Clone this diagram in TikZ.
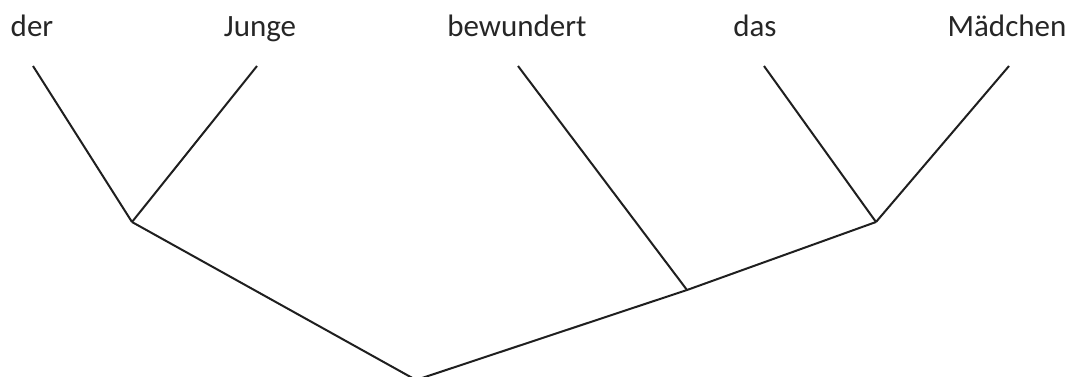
\documentclass[tikz,border=0pt]{standalone}
\usepackage{fontspec}
\setmainfont{Carlito}
\begin{document}
\begin{tikzpicture}[x=1pt,y=-1pt,
  word/.style={anchor=base,inner sep=0pt,font=\fontsize{31}{37}\selectfont,text=black!85},
  branch/.style={line width=2pt,draw=black!88,line cap=butt,line join=miter}]
\useasboundingbox (0,0) rectangle (1072,376);
\node[word] (w1) at (32,36) {der};
\node[word] (w2) at (260,36) {Junge};
\node[word] (w3) at (517,36) {bewundert};
\node[word] (w4) at (755,36) {das};
\node[word] (w5) at (1007,36) {Mädchen};
\coordinate (t1) at (33,66);
\coordinate (t2) at (257,66);
\coordinate (t3) at (518,66);
\coordinate (t4) at (764,66);
\coordinate (t5) at (1009,66);
\coordinate (np1) at (132,222);
\coordinate (np2) at (876,222);
\coordinate (vp) at (687,290);
\coordinate (root) at (416,380);
\draw[branch] (t1) -- (np1);
\draw[branch] (t2) -- (np1);
\draw[branch] (t3) -- (vp);
\draw[branch] (t4) -- (np2);
\draw[branch] (t5) -- (np2);
\draw[branch] (np1) -- (root);
\draw[branch] (root) -- (vp) -- (np2);
\end{tikzpicture}
\end{document}
